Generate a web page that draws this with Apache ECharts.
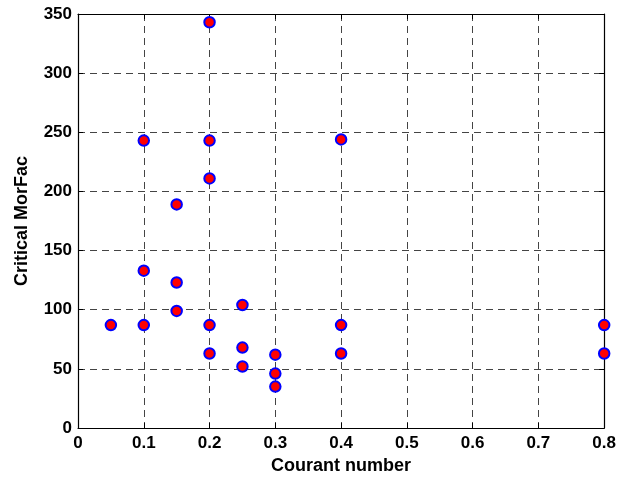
<!DOCTYPE html>
<html>
<head>
<meta charset="utf-8">
<script src="https://cdn.jsdelivr.net/npm/echarts@6/dist/echarts.min.js"></script>
<style>
  html, body { margin: 0; padding: 0; background: #fff; }
  #chart { width: 619px; height: 480px; }
</style>
</head>
<body>
<div id="chart"></div>
<script>
    // Courant number vs critical MorFac
    var courant = [0.05, 0.1, 0.1, 0.1, 0.15, 0.15, 0.15, 0.2, 0.2, 0.2, 0.2, 0.2,
        0.25, 0.25, 0.25, 0.3, 0.3, 0.3, 0.4, 0.4, 0.4, 0.8, 0.8];
    var morfac = [87, 243, 133, 87, 189, 123, 99, 343, 243, 211, 87, 63,
        104, 68, 52, 62, 46, 35, 244, 87, 63, 87, 63];

    var xTicks = { min: 0, max: 0.8, interval: 0.1 };
    var yTicks = { min: 0, max: 350, interval: 50 };

    var points = courant.map(function (c, i) {
        return [c, morfac[i]];
    });

    var chart = echarts.init(document.getElementById('chart'));

    var tickFont = {
        color: '#000',
        fontFamily: 'Liberation Sans, Arial, sans-serif',
        fontWeight: 'bold',
        fontSize: 17
    };
    var nameFont = {
        color: '#000',
        fontFamily: 'Liberation Sans, Arial, sans-serif',
        fontWeight: 'bold',
        fontSize: 18
    };
    var gridLine = {
        show: true,
        lineStyle: { color: '#444', type: [7, 5], width: 1 }
    };

    var option = {
        animation: false,
        grid: { left: 78, right: 14, top: 14, bottom: 51 },
        xAxis: [{
            type: 'value',
            min: xTicks.min, max: xTicks.max, interval: xTicks.interval,
            name: 'Courant number',
            nameLocation: 'middle',
            nameGap: 29,
            nameTextStyle: nameFont,
            axisLine: { show: true, onZero: false, lineStyle: { color: '#000', width: 1.2 } },
            axisTick: { show: true, inside: true, length: 5, lineStyle: { color: '#000' } },
            axisLabel: Object.assign({ margin: 7 }, tickFont),
            splitLine: gridLine
        }, {
            type: 'value',
            position: 'top',
            min: xTicks.min, max: xTicks.max, interval: xTicks.interval,
            axisLine: { show: true, onZero: false, lineStyle: { color: '#000', width: 1.2 } },
            axisTick: { show: true, inside: true, length: 5, lineStyle: { color: '#000' } },
            axisLabel: { show: false },
            splitLine: { show: false }
        }],
        yAxis: [{
            type: 'value',
            min: yTicks.min, max: yTicks.max, interval: yTicks.interval,
            name: 'Critical MorFac',
            nameLocation: 'middle',
            nameGap: 47,
            nameTextStyle: nameFont,
            axisLine: { show: true, onZero: false, lineStyle: { color: '#000', width: 1.2 } },
            axisTick: { show: true, inside: true, length: 5, lineStyle: { color: '#000' } },
            axisLabel: Object.assign({ margin: 6 }, tickFont),
            splitLine: gridLine
        }, {
            type: 'value',
            position: 'right',
            min: yTicks.min, max: yTicks.max, interval: yTicks.interval,
            axisLine: { show: true, onZero: false, lineStyle: { color: '#000', width: 1.2 } },
            axisTick: { show: true, inside: true, length: 5, lineStyle: { color: '#000' } },
            axisLabel: { show: false },
            splitLine: { show: false }
        }],
        series: [{
            type: 'scatter',
            data: points,
            symbol: 'circle',
            symbolSize: 10.5,
            itemStyle: {
                color: '#ff0000',
                borderColor: '#0000ff',
                borderWidth: 2,
                opacity: 1
            }
        }]
    };

    chart.setOption(option);
</script>
</body>
</html>
